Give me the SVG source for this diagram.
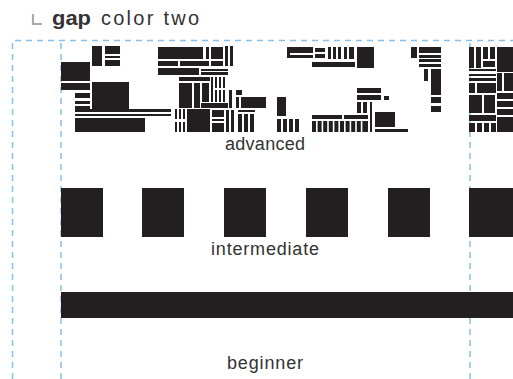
<svg xmlns="http://www.w3.org/2000/svg" width="513" height="379" viewBox="0 0 513 379">
<style>
.g{stroke:#88bfec;stroke-width:1.5;stroke-dasharray:6 5;fill:none}
.k{fill:#231f20}
.t{font-family:"Liberation Sans",Arial,sans-serif;font-size:18px;fill:#333}
.h{font-family:"Liberation Sans",Arial,sans-serif;font-size:20px;fill:#333}
</style>
<rect width="513" height="379" fill="#fff"/>
<g id="guides">
<path class="g" d="M12.5 379V40.5H513"/>
<path class="g" d="M61 379V40.5"/>
<path class="g" d="M470 379V40.5"/>
</g>
<g id="header">
<path d="M33 14V24H42" stroke="#aaa" stroke-width="2.2" fill="none"/>
<text class="h" x="52" y="25" font-weight="bold" textLength="39" lengthAdjust="spacingAndGlyphs">gap</text>
<text class="h" x="101" y="25" textLength="98" lengthAdjust="spacing">color two</text>
</g>
<g id="advanced" class="k">
<rect x="92" y="46" width="10" height="20"/>
<rect x="105" y="46" width="15" height="8"/>
<rect x="105" y="56" width="15" height="2"/>
<rect x="105" y="60" width="15" height="6"/>
<rect x="61" y="62" width="29" height="19"/>
<rect x="61" y="83" width="29" height="7"/>
<rect x="92" y="82" width="37" height="27"/>
<rect x="75" y="93" width="15" height="5"/>
<rect x="75" y="101" width="15" height="3"/>
<rect x="75" y="106" width="15" height="6"/>
<rect x="75" y="109" width="96" height="3"/>
<rect x="75" y="114" width="96" height="2"/>
<rect x="75" y="118" width="70" height="14"/>
<rect x="158" y="47" width="45" height="12"/>
<rect x="206" y="47" width="3" height="12"/>
<rect x="211" y="47" width="12" height="12"/>
<rect x="225" y="46" width="3" height="20"/>
<rect x="230" y="46" width="3" height="20"/>
<rect x="158" y="61" width="20" height="5"/>
<rect x="180" y="61" width="29" height="5"/>
<rect x="211" y="61" width="12" height="5"/>
<rect x="158" y="68" width="41" height="7"/>
<rect x="201" y="69" width="27" height="2"/>
<rect x="201" y="72" width="27" height="3"/>
<rect x="179" y="77" width="31" height="4"/>
<rect x="211" y="77" width="2" height="25"/>
<rect x="215" y="77" width="2" height="11"/>
<rect x="219" y="77" width="2" height="11"/>
<rect x="223" y="77" width="2" height="11"/>
<rect x="215" y="90" width="2" height="12"/>
<rect x="219" y="90" width="2" height="12"/>
<rect x="223" y="90" width="2" height="12"/>
<rect x="179" y="83" width="13" height="25"/>
<rect x="194" y="83" width="6" height="25"/>
<rect x="202" y="83" width="7" height="19"/>
<rect x="201" y="103" width="27" height="5"/>
<rect x="229" y="90" width="3" height="18"/>
<rect x="236" y="90" width="6" height="5"/>
<rect x="236" y="97" width="3" height="11"/>
<rect x="241" y="97" width="25" height="11"/>
<rect x="238" y="110" width="17" height="2"/>
<rect x="238" y="114" width="4" height="18"/>
<rect x="244" y="114" width="4" height="18"/>
<rect x="250" y="114" width="4" height="18"/>
<rect x="175" y="109" width="2" height="10"/>
<rect x="179" y="109" width="2" height="10"/>
<rect x="183" y="109" width="2" height="10"/>
<rect x="175" y="122" width="2" height="10"/>
<rect x="179" y="122" width="2" height="10"/>
<rect x="183" y="122" width="2" height="10"/>
<rect x="187" y="109" width="23" height="23"/>
<rect x="212" y="110" width="12" height="7"/>
<rect x="212" y="119" width="12" height="2"/>
<rect x="212" y="123" width="12" height="9"/>
<rect x="226" y="110" width="3" height="22"/>
<rect x="231" y="110" width="3" height="22"/>
<rect x="277" y="97" width="9" height="19"/>
<rect x="277" y="119" width="4" height="13"/>
<rect x="283" y="119" width="4" height="13"/>
<rect x="289" y="119" width="4" height="13"/>
<rect x="295" y="119" width="4" height="13"/>
<rect x="312" y="115" width="30" height="4"/>
<rect x="344" y="115" width="24" height="4"/>
<rect x="312" y="121" width="4" height="11"/>
<rect x="317.6" y="121" width="4" height="11"/>
<rect x="323.2" y="121" width="4" height="11"/>
<rect x="328.8" y="121" width="4" height="11"/>
<rect x="334.4" y="121" width="4" height="11"/>
<rect x="340" y="121" width="4" height="11"/>
<rect x="345.6" y="121" width="4" height="11"/>
<rect x="351.2" y="121" width="4" height="11"/>
<rect x="356.8" y="121" width="4" height="11"/>
<rect x="362.4" y="121" width="5.6" height="11"/>
<rect x="357" y="88" width="24" height="5"/>
<rect x="357" y="95" width="24" height="5"/>
<rect x="384" y="96" width="5" height="4"/>
<rect x="357" y="102" width="4" height="11"/>
<rect x="363" y="102" width="4" height="11"/>
<rect x="370" y="102" width="2" height="30"/>
<rect x="375" y="112" width="20" height="15"/>
<rect x="375" y="129" width="33" height="3"/>
<rect x="287" y="47" width="3" height="11"/>
<rect x="290" y="47" width="23" height="6"/>
<rect x="287" y="55" width="26" height="3"/>
<rect x="315" y="48" width="10" height="4"/>
<rect x="315" y="54" width="10" height="4"/>
<rect x="328" y="47" width="3" height="12"/>
<rect x="333" y="47" width="3" height="12"/>
<rect x="338" y="47" width="3" height="12"/>
<rect x="344" y="47" width="3" height="12"/>
<rect x="349" y="47" width="5" height="12"/>
<rect x="312" y="62" width="43" height="5"/>
<rect x="357" y="47" width="17" height="21"/>
<rect x="411" y="47" width="6" height="11"/>
<rect x="419" y="47" width="22" height="6"/>
<rect x="419" y="55" width="22" height="3"/>
<rect x="419" y="59" width="22" height="3"/>
<rect x="419" y="64" width="22" height="3"/>
<rect x="424" y="69" width="4" height="12"/>
<rect x="431" y="69" width="10" height="26"/>
<rect x="431" y="97" width="10" height="6"/>
<rect x="431" y="106" width="10" height="6"/>
<rect x="469" y="47" width="5" height="21"/>
<rect x="476" y="47" width="5" height="21"/>
<rect x="483" y="47" width="5" height="12"/>
<rect x="490" y="47" width="5" height="12"/>
<rect x="483" y="61" width="12" height="6"/>
<rect x="497" y="47" width="16" height="25"/>
<rect x="469" y="69" width="27" height="2"/>
<rect x="469" y="74" width="27" height="2"/>
<rect x="469" y="78" width="27" height="3"/>
<rect x="469" y="83" width="6" height="10"/>
<rect x="477" y="83" width="19" height="10"/>
<rect x="497" y="73" width="5" height="18"/>
<rect x="504" y="73" width="9" height="18"/>
<rect x="469" y="95" width="13" height="18"/>
<rect x="484" y="95" width="11" height="18"/>
<rect x="497" y="93" width="16" height="6"/>
<rect x="497" y="101" width="16" height="6"/>
<rect x="497" y="109" width="16" height="6"/>
<rect x="497" y="117" width="16" height="15"/>
<rect x="469" y="115" width="27" height="6"/>
<rect x="469" y="123" width="6" height="9"/>
<rect x="477" y="123" width="5" height="9"/>
<rect x="484" y="123" width="5" height="9"/>
<rect x="491" y="123" width="5" height="9"/>
<text class="t" x="225" y="150" textLength="80" lengthAdjust="spacing">advanced</text>
</g>
<g id="intermediate">
<g class="k">
<rect x="61" y="188" width="42" height="49"/>
<rect x="142" y="188" width="42" height="49"/>
<rect x="224" y="188" width="42" height="49"/>
<rect x="306" y="188" width="42" height="49"/>
<rect x="388" y="188" width="42" height="49"/>
<rect x="469" y="188" width="44" height="49"/>
</g>
<text class="t" x="211" y="255" textLength="108" lengthAdjust="spacing">intermediate</text>
</g>
<g id="beginner">
<rect class="k" x="61" y="292" width="452" height="26"/>
<text class="t" x="227" y="369" textLength="76" lengthAdjust="spacing">beginner</text>
</g>
</svg>
